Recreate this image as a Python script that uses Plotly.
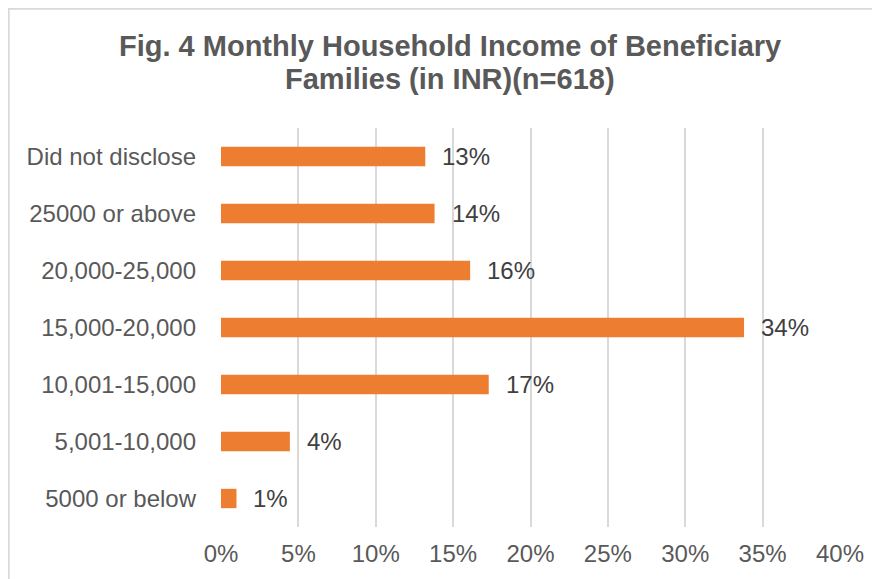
import plotly.graph_objects as go

categories = ["5000 or below", "5,001-10,000", "10,001-15,000", "15,000-20,000",
              "20,000-25,000", "25000 or above", "Did not disclose"]
values = [1.0, 4.45, 17.3, 33.8, 16.1, 13.8, 13.2]
labels = ["1%", "4%", "17%", "34%", "16%", "14%", "13%"]
tick_vals = [0, 5, 10, 15, 20, 25, 30, 35, 40]
tick_text = ["0%", "5%", "10%", "15%", "20%", "25%", "30%", "35%", "40%"]
title_lines = ["Fig. 4 Monthly Household Income of Beneficiary",
               "Families (in INR)(n=618)"]

FONT = "Liberation Sans, Arial"

fig = go.Figure(go.Bar(
    x=values, y=categories, orientation="h",
    marker=dict(color="#ED7D31", line=dict(width=0)),
    width=0.34, hoverinfo="skip",
))

for v, c, t in zip(values, categories, labels):
    fig.add_annotation(x=v, y=c, text=t, showarrow=False, xanchor="left",
                       xshift=15, font=dict(size=24, color="#404040", family=FONT))

for txt, yy in zip(title_lines, [1.2055, 1.1228]):
    fig.add_annotation(x=0.37, y=yy, xref="paper", yref="paper", text="<b>" + txt + "</b>",
                       showarrow=False, xanchor="center", yanchor="middle",
                       font=dict(size=29, color="#595959", family=FONT))

fig.update_layout(
    width=880, height=579,
    paper_bgcolor="white", plot_bgcolor="white",
    margin=dict(l=213, r=48, t=120, b=60),
    font=dict(family=FONT, color="#595959", size=24),
    showlegend=False,
    xaxis=dict(range=[0, 40], tickvals=tick_vals, ticktext=tick_text,
               showgrid=True, gridcolor="#D9D9D9", gridwidth=2,
               zeroline=False, showline=False, ticks="", automargin=False,
               ticklabelstandoff=10,
               tickfont=dict(size=24, color="#595959")),
    yaxis=dict(categoryorder="array", categoryarray=categories,
               showgrid=False, zeroline=False, showline=False, ticks="",
               ticklabelstandoff=24, automargin=False,
               tickfont=dict(size=24, color="#595959")),
)

fig.add_shape(type="rect", xref="paper", yref="paper",
              x0=-0.343, x1=1.094, y0=-0.203, y1=1.2989,
              line=dict(color="#D9D9D9", width=2), fillcolor="rgba(0,0,0,0)",
              layer="below")

fig.write_html("out.html")
